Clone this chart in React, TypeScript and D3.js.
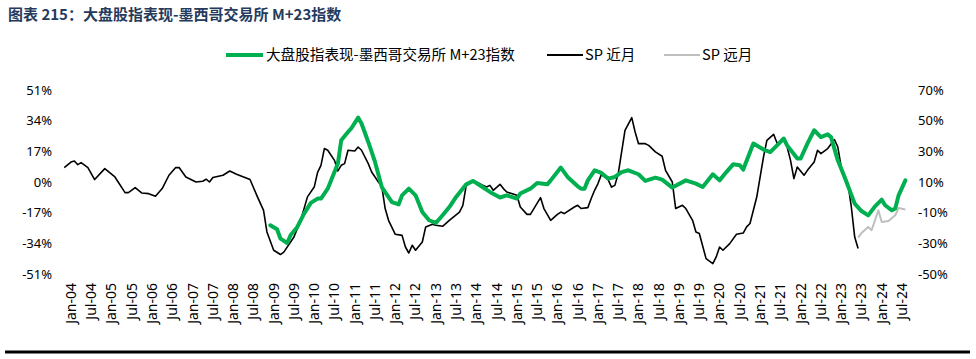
import React from "react";
import * as d3 from "d3";

const W = 976;
const H = 359;

const titleText = "图表 215：大盘股指表现-墨西哥交易所 M+23指数";
const seriesNames = ["大盘股指表现-墨西哥交易所 M+23指数", "SP 近月", "SP 远月"];
const leftTicks = [51, 34, 17, 0, -17, -34, -51];
const rightTicks = [70, 50, 30, 10, -10, -30, -50];

// green series, left axis (%)
const indexYoY: [string, number][] = [
  ["2008-12", -24.0], ["2009-02", -26.2], ["2009-03", -31.4], ["2009-05", -33.8], ["2009-06", -29.5],
  ["2009-08", -24.9], ["2009-10", -17.5], ["2009-12", -11.6], ["2010-02", -9.2], ["2010-03", -9.2],
  ["2010-05", -3.7], ["2010-08", 10.2], ["2010-09", 23.1], ["2010-11", 27.7], ["2010-12", 29.8],
  ["2011-02", 35.7], ["2011-03", 32.4], ["2011-05", 22.2], ["2011-07", 11.1], ["2011-09", -2.8],
  ["2011-12", -11.1], ["2012-02", -12.4], ["2012-03", -7.4], ["2012-05", -3.7], ["2012-07", -7.4],
  ["2012-09", -16.6], ["2012-11", -21.2], ["2013-01", -22.7], ["2013-03", -18.4], ["2013-05", -13.9],
  ["2013-07", -8.3], ["2013-10", -1.3], ["2013-12", 0.6], ["2014-02", -1.8], ["2014-05", -5.5],
  ["2014-08", -8.6], ["2014-10", -7.4], ["2015-01", -9.2], ["2015-02", -6.4], ["2015-05", -3.7],
  ["2015-07", -0.6], ["2015-10", -1.3], ["2015-11", 0.9], ["2016-02", 8.0], ["2016-04", 2.8],
  ["2016-07", -2.4], ["2016-08", -3.7], ["2016-09", -3.7], ["2016-10", 0.9], ["2016-12", 6.5],
  ["2017-02", 5.0], ["2017-04", 1.9], ["2017-06", 2.8], ["2017-08", 5.5], ["2017-10", 6.5],
  ["2018-01", 4.3], ["2018-03", 0.6], ["2018-06", 2.4], ["2018-08", 1.3], ["2018-11", -3.1],
  ["2019-03", 0.9], ["2019-06", -0.9], ["2019-08", -2.8], ["2019-10", 1.9], ["2019-11", 4.3],
  ["2020-01", 0.9], ["2020-03", 5.5], ["2020-05", 9.8], ["2020-07", 9.3], ["2020-08", 6.9],
  ["2020-11", 21.3], ["2021-02", 18.0], ["2021-04", 16.6], ["2021-06", 20.3], ["2021-08", 24.1],
  ["2021-09", 20.3], ["2021-12", 13.0], ["2022-01", 13.0], ["2022-03", 21.3], ["2022-05", 28.7],
  ["2022-07", 24.9], ["2022-09", 26.4], ["2022-10", 24.9], ["2022-12", 12.0], ["2023-02", 2.8],
  ["2023-05", -12.0], ["2023-07", -16.1], ["2023-09", -18.5], ["2023-11", -13.5], ["2024-01", -9.8],
  ["2024-02", -12.9], ["2024-04", -15.7], ["2024-05", -14.7], ["2024-06", -7.4], ["2024-08", 0.9],
];

// black series, right axis (%)
const spNear: [string, number][] = [
  ["2003-11", 19.4], ["2004-01", 23.0], ["2004-02", 23.7], ["2004-03", 21.3], ["2004-04", 22.6],
  ["2004-06", 19.4], ["2004-08", 11.6], ["2004-11", 18.7], ["2005-02", 13.3], ["2005-05", 3.1],
  ["2005-06", 3.1], ["2005-08", 6.3], ["2005-10", 2.8], ["2005-12", 2.4], ["2006-02", 0.7],
  ["2006-04", 5.7], ["2006-06", 14.4], ["2006-08", 19.4], ["2006-09", 19.4], ["2006-11", 13.3],
  ["2007-02", 10.0], ["2007-04", 10.5], ["2007-05", 11.8], ["2007-06", 10.0], ["2007-07", 12.9],
  ["2007-10", 14.4], ["2007-12", 17.2], ["2008-02", 15.0], ["2008-06", 11.6], ["2008-08", 1.3],
  ["2008-10", -8.5], ["2008-11", -22.6], ["2009-01", -34.5], ["2009-03", -37.3], ["2009-04", -35.7],
  ["2009-07", -25.9], ["2009-09", -15.0], ["2009-11", 0.3], ["2010-01", 6.7], ["2010-02", 16.3],
  ["2010-03", 20.9], ["2010-04", 31.8], ["2010-05", 30.7], ["2010-07", 24.1], ["2010-08", 17.2],
  ["2010-09", 20.9], ["2010-10", 22.0], ["2010-11", 30.7], ["2011-01", 30.2], ["2011-02", 32.8],
  ["2011-03", 30.7], ["2011-05", 22.0], ["2011-06", 16.5], ["2011-08", 10.0], ["2011-09", 7.2],
  ["2011-10", -7.3], ["2011-11", -15.0], ["2012-01", -24.1], ["2012-03", -24.8], ["2012-04", -32.4],
  ["2012-05", -36.3], ["2012-06", -31.3], ["2012-07", -34.5], ["2012-09", -29.1], ["2012-10", -19.3],
  ["2012-12", -17.6], ["2013-01", -18.2], ["2013-03", -18.9], ["2013-05", -15.0], ["2013-08", -9.6],
  ["2013-09", -5.2], ["2013-10", 7.8], ["2013-11", 10.0], ["2014-01", 10.0], ["2014-03", 7.8],
  ["2014-04", 6.7], ["2014-05", 7.8], ["2014-06", 4.6], ["2014-08", 8.5], ["2014-09", 5.7],
  ["2014-10", 3.5], ["2015-01", 1.3], ["2015-02", -6.3], ["2015-04", -11.1], ["2015-05", -11.1],
  ["2015-08", -0.2], ["2015-09", -7.3], ["2015-11", -15.0], ["2016-01", -11.1], ["2016-02", -9.6],
  ["2016-03", -10.6], ["2016-06", -6.3], ["2016-07", -5.2], ["2016-08", -7.3], ["2016-10", -6.7],
  ["2016-11", -0.8], ["2016-12", 4.6], ["2017-01", 9.0], ["2017-02", 14.8], ["2017-04", 11.6],
  ["2017-05", 6.7], ["2017-06", 7.8], ["2017-07", 15.5], ["2017-09", 43.7], ["2017-11", 52.0],
  ["2017-12", 42.6], ["2018-01", 35.0], ["2018-03", 35.0], ["2018-04", 33.9], ["2018-06", 29.6],
  ["2018-08", 26.8], ["2018-09", 17.6], ["2018-11", 10.0], ["2018-12", -7.3], ["2019-02", -5.2],
  ["2019-03", -7.3], ["2019-05", -15.0], ["2019-06", -22.6], ["2019-07", -23.6], ["2019-09", -40.0],
  ["2019-11", -43.2], ["2019-12", -38.9], ["2020-01", -32.4], ["2020-02", -34.5], ["2020-04", -30.2],
  ["2020-06", -24.1], ["2020-08", -23.3], ["2020-09", -19.3], ["2020-10", -17.1], ["2020-12", 0.2],
  ["2021-02", 26.3], ["2021-03", 37.2], ["2021-05", 41.1], ["2021-06", 35.4], ["2021-08", 37.2],
  ["2021-09", 32.8], ["2021-10", 24.1], ["2021-11", 12.2], ["2021-12", 19.8], ["2022-02", 14.4],
  ["2022-03", 17.6], ["2022-05", 23.0], ["2022-06", 30.7], ["2022-07", 28.5], ["2022-09", 31.8],
  ["2022-11", 37.7], ["2022-12", 32.8], ["2023-01", 19.8], ["2023-03", 9.0], ["2023-04", -6.3],
  ["2023-05", -25.9], ["2023-06", -33.4],
];

// gray series, right axis (%)
const spFar: [string, number][] = [
  ["2023-06", -26.3], ["2023-07", -23.3], ["2023-09", -19.3], ["2023-10", -21.5], ["2023-12", -8.5],
  ["2024-01", -16.1], ["2024-03", -15.4], ["2024-05", -11.7], ["2024-06", -7.0], ["2024-08", -8.0],
];

const monthNames = ["Jan", "Feb", "Mar", "Apr", "May", "Jun", "Jul", "Aug", "Sep", "Oct", "Nov", "Dec"];
const labelMonths: string[] = [];
for (let y = 2004; y <= 2024; y++) {
  labelMonths.push(`${y}-01`);
  labelMonths.push(`${y}-07`);
}

const mIdx = (s: string) => {
  const [y, m] = s.split("-").map(Number);
  return (y - 2004) * 12 + (m - 1);
};
const fmtLabel = (s: string) => {
  const [y, m] = s.split("-").map(Number);
  return `${monthNames[m - 1]}-${String(y % 100).padStart(2, "0")}`;
};

const GREEN = "#00B050";
const GRAY = "#BFBFBF";
const TICK_FONT = "'Noto Sans', 'DejaVu Sans', sans-serif";
const CJK_FONT = "'Noto Sans CJK SC', 'Noto Sans', sans-serif";

export default function App() {
  const x = d3.scaleLinear().domain([0, 246]).range([71, 902]);
  const yL = d3.scaleLinear().domain([-51, 51]).range([274, 90]);
  const yR = d3.scaleLinear().domain([-50, 70]).range([274, 90]);

  const lineL = d3
    .line<[string, number]>()
    .x((d) => x(mIdx(d[0])))
    .y((d) => yL(d[1]));
  const lineR = d3
    .line<[string, number]>()
    .x((d) => x(mIdx(d[0])))
    .y((d) => yR(d[1]));

  const legendY = 55;
  const legend = [
    { x1: 226, x2: 263, tx: 266, color: GREEN, w: 4, label: seriesNames[0] },
    { x1: 547, x2: 583, tx: 585, color: "#000", w: 2, label: seriesNames[1] },
    { x1: 664, x2: 700, tx: 702, color: GRAY, w: 2, label: seriesNames[2] },
  ];

  return (
    <svg
      width={W}
      height={H}
      style={{ position: "absolute", left: 0, top: 0, background: "#fff" }}
    >
      <text x={8} y={20} fontFamily={CJK_FONT} fontWeight="bold" fontSize={15} fill="#263A5C">
        {titleText}
      </text>

      {legend.map((l, i) => (
        <g key={i}>
          <line x1={l.x1} x2={l.x2} y1={legendY} y2={legendY} stroke={l.color} strokeWidth={l.w} />
          <text x={l.tx} y={legendY} dy="0.35em" fontFamily={CJK_FONT} fontSize={14.6} fill="#000">
            {l.label}
          </text>
        </g>
      ))}

      {leftTicks.map((t) => (
        <text key={"l" + t} x={52} y={yL(t)} dy="0.35em" textAnchor="end" fontFamily={TICK_FONT} fontSize={13} fill="#000">
          {t}%
        </text>
      ))}
      {rightTicks.map((t) => (
        <text key={"r" + t} x={918} y={yR(t)} dy="0.35em" textAnchor="start" fontFamily={TICK_FONT} fontSize={13} fill="#000">
          {t}%
        </text>
      ))}

      {labelMonths.map((s) => (
        <text
          key={s}
          transform={`translate(${x(mIdx(s))},283) rotate(-90)`}
          dy="0.35em"
          textAnchor="end"
          fontFamily={TICK_FONT}
          fontSize={14}
          fill="#000"
        >
          {fmtLabel(s)}
        </text>
      ))}

      <path d={lineR(spFar) || ""} fill="none" stroke={GRAY} strokeWidth={2} strokeLinejoin="round" />
      <path d={lineR(spNear) || ""} fill="none" stroke="#000" strokeWidth={1.6} strokeLinejoin="round" />
      <path d={lineL(indexYoY) || ""} fill="none" stroke={GREEN} strokeWidth={4} strokeLinejoin="round" strokeLinecap="round" />

      <line x1={5} x2={970} y1={352} y2={352} stroke="#000" strokeWidth={3} />
    </svg>
  );
}
